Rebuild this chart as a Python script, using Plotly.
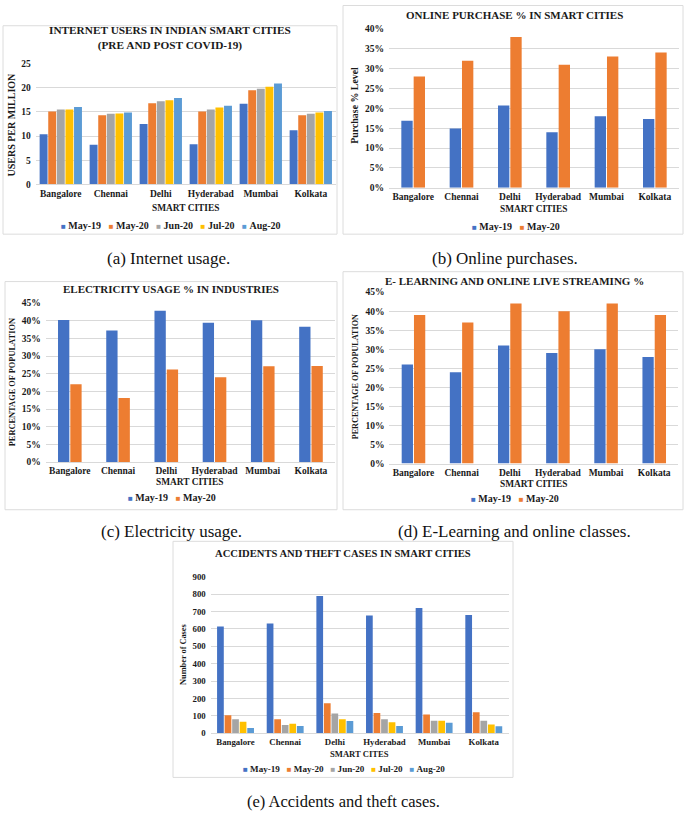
import plotly.graph_objects as go

W, H = 685, 815
FONT = "Liberation Serif, Times New Roman, Times, serif"
INK = "#1a1a1a"
GRID = "#D9D9D9"

# ---------------- data ----------------
cities = ["Bangalore", "Chennai", "Delhi", "Hyderabad", "Mumbai", "Kolkata"]
months5 = ["May-19", "May-20", "Jun-20", "Jul-20", "Aug-20"]
months2 = ["May-19", "May-20"]

internet_may19 = [10.4, 8.2, 12.5, 8.3, 16.7, 11.2]
internet_may20 = [15.1, 14.3, 16.8, 15.1, 19.5, 14.3]
internet_jun20 = [15.5, 14.6, 17.2, 15.5, 19.8, 14.6]
internet_jul20 = [15.5, 14.7, 17.4, 15.9, 20.2, 14.9]
internet_aug20 = [16.0, 14.9, 17.9, 16.3, 20.9, 15.2]

purchase_may19 = [16.9, 14.9, 20.7, 14.0, 18.0, 17.3]
purchase_may20 = [28.0, 32.0, 38.0, 31.0, 33.1, 34.1]

electricity_may19 = [40.2, 37.2, 42.8, 39.4, 40.1, 38.3]
electricity_may20 = [22.0, 18.1, 26.2, 24.0, 27.1, 27.2]

elearning_may19 = [26, 24, 31, 29, 30, 28]
elearning_may20 = [39, 37, 42, 40, 42, 39]

accidents_may19 = [614, 631, 788, 677, 720, 680]
accidents_may20 = [104, 80, 172, 116, 108, 121]
accidents_jun20 = [80, 47, 114, 80, 72, 72]
accidents_jul20 = [66, 55, 81, 63, 72, 51]
accidents_aug20 = [30, 42, 70, 42, 61, 40]

COLORS = ["#4472C4", "#ED7D31", "#A5A5A5", "#FFC000", "#5B9BD5"]


def px(x):
    return x / W


def py(y):
    return 1 - y / H


fig = go.Figure()
shapes = []
annotations = []


def bold(size):
    return dict(family=FONT, size=size, color=INK, weight=700)


def add_panel(k, series, names, group_w, fill, box, dom_x, dom_y, yrange, dtick,
              suffix, title, title_xy, title_size, xtitle, xtitle_xy, xtitle_size,
              ytitle, ytitle_xy, ytitle_size, legend_xy, legend_size, tick_size,
              caption, caption_xy, caption_size):
    xa = "x" if k == 1 else f"x{k}"
    ya = "y" if k == 1 else f"y{k}"
    n = len(series)
    slot = group_w / n
    bw = slot * fill
    for i, (vals, name) in enumerate(zip(series, names)):
        fig.add_trace(go.Bar(
            x=cities, y=vals, name=name, xaxis=xa, yaxis=ya,
            marker=dict(color=COLORS[i], line=dict(width=0)),
            width=bw, offset=-group_w / 2 + i * slot + (slot - bw) / 2,
            showlegend=False,
        ))
    key = "" if k == 1 else str(k)
    fig.layout["xaxis" + key] = dict(
        domain=[px(dom_x[0]), px(dom_x[1])], anchor=ya, type="category",
        showgrid=False, showline=True, linecolor=GRID, linewidth=1,
        ticks="", tickfont=bold(tick_size), fixedrange=True)
    fig.layout["yaxis" + key] = dict(
        domain=[py(dom_y[1]), py(dom_y[0])], anchor=xa, range=yrange, dtick=dtick,
        showgrid=True, gridcolor=GRID, gridwidth=1, zeroline=False, showline=False,
        ticks="", ticksuffix=suffix, tickfont=bold(tick_size), ticklabelstandoff=4,
        fixedrange=True)
    shapes.append(dict(type="rect", xref="paper", yref="paper",
                       x0=px(box[0]), x1=px(box[2]), y0=py(box[3]), y1=py(box[1]),
                       line=dict(color="#DCDCDC", width=1), layer="below"))
    annotations.append(dict(text=title, x=px(title_xy[0]), y=py(title_xy[1]),
                            xref="paper", yref="paper", showarrow=False,
                            xanchor="center", yanchor="middle", font=bold(title_size)))
    annotations.append(dict(text=xtitle, x=px(xtitle_xy[0]), y=py(xtitle_xy[1]),
                            xref="paper", yref="paper", showarrow=False,
                            xanchor="center", yanchor="middle", font=bold(xtitle_size)))
    annotations.append(dict(text=ytitle, x=px(ytitle_xy[0]), y=py(ytitle_xy[1]),
                            xref="paper", yref="paper", showarrow=False, textangle=-90,
                            xanchor="center", yanchor="middle", font=bold(ytitle_size)))
    legend_text = "\u00a0\u00a0\u00a0".join(
        f"<span style='color:{COLORS[i]};font-size:8px'>\u25a0</span>\u00a0{nm}"
        for i, nm in enumerate(names))
    annotations.append(dict(text=legend_text, x=px(legend_xy[0]), y=py(legend_xy[1]),
                            xref="paper", yref="paper", showarrow=False,
                            xanchor="center", yanchor="middle", font=bold(legend_size)))
    annotations.append(dict(text=caption, x=px(caption_xy[0]), y=py(caption_xy[1]),
                            xref="paper", yref="paper", showarrow=False,
                            xanchor="center", yanchor="middle",
                            font=dict(family=FONT, size=caption_size, color="#111",
                                      weight=400)))


add_panel(1, [internet_may19, internet_may20, internet_jun20, internet_jul20, internet_aug20],
          months5, 0.86, 0.92, (3, 21, 337, 232), (35.8, 335.8), (59.3, 181.7), [0, 25], 5, "",
          "INTERNET USERS IN INDIAN SMART CITIES<br>(PRE AND POST COVID-19)", (170, 33.5), 11.3,
          "SMART CITIES", (185.8, 206), 9.4, "USERS PER MILLION", (12, 121), 10,
          (171, 223), 10, 9.5, "(a) Internet usage.", (168, 257), 17)

add_panel(2, [purchase_may19, purchase_may20], months2, 0.51, 0.92,
          (343, 0.5, 683, 232), (389, 679), (24.3, 185), [0, 40], 5, "%",
          "ONLINE PURCHASE % IN SMART CITIES", (514, 10), 11,
          "SMART CITIES", (534, 207), 9.4, "Purchase % Level", (355, 102), 9.9,
          (516, 224), 10, 9.5, "(b) Online purchases.", (505, 257), 17)

add_panel(3, [electricity_may19, electricity_may20], months2, 0.51, 0.92,
          (5, 280, 337, 511), (45.7, 335.1), (301.7, 462.7), [0, 45], 5, "%",
          "ELECTRICITY USAGE % IN INDUSTRIES", (170.5, 288), 11,
          "SMART CITIES", (190, 483), 9.4, "PERCENTAGE OF POPULATION", (12, 382), 8.4,
          (172, 499), 10, 9.5, "(c) Electricity usage.", (171, 533), 17)

add_panel(4, [elearning_may19, elearning_may20], months2, 0.51, 0.92,
          (343, 270, 683, 511), (389.4, 678.3), (290.7, 464.3), [0, 45], 5, "%",
          "E- LEARNING AND ONLINE LIVE STREAMING %", (514, 279), 11,
          "SMART CITIES", (534, 485), 9.4, "PERCENTAGE OF POPULATION", (355, 377), 8.2,
          (515, 500), 10, 9.5, "(d) E-Learning and online classes.", (514, 533), 17)

add_panel(5, [accidents_may19, accidents_may20, accidents_jun20, accidents_jul20, accidents_aug20],
          months5, 0.76, 0.89, (173, 543, 513, 782), (210.7, 508.6), (578.7, 737.3), [0, 900], 100, "",
          "ACCIDENTS AND THEFT CASES IN SMART CITIES", (343, 555), 10.6,
          "SMART CITES", (359.7, 758), 8.6, "Number of Cases", (184, 658), 8.3,
          (344, 773), 9.1, 8.8, "(e) Accidents and theft cases.", (343, 806.5), 16.5)

fig.update_layout(
    width=W, height=H, margin=dict(l=0, r=0, t=0, b=0),
    paper_bgcolor="white", plot_bgcolor="white",
    barmode="overlay", showlegend=False,
    shapes=shapes, annotations=annotations,
    font=dict(family=FONT, color=INK),
)

fig.write_html("out.html", config={"displayModeBar": False},
               post_script="document.body.style.margin='0';document.body.style.padding='0';"
                           "document.body.style.overflow='hidden';")
